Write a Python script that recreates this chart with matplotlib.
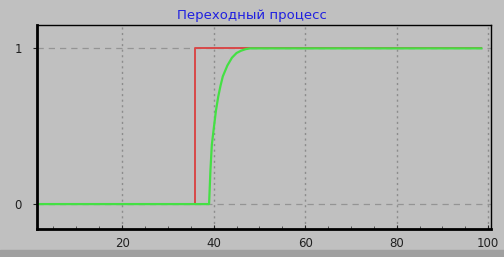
import matplotlib.pyplot as plt
from matplotlib.ticker import MultipleLocator

# данные
t_red = [1, 36, 36, 98.5]
y_red = [0, 0, 1, 1]

t_green = [1, 39, 39.3, 39.6, 40, 40.5, 41, 41.5, 42, 43, 44, 45, 46, 47, 48, 98.5]
y_green = [0, 0, 0.22, 0.38, 0.48, 0.6, 0.69, 0.76, 0.82, 0.89, 0.94, 0.97, 0.985, 0.995, 1, 1]

x_ticks = [20, 40, 60, 80, 100]
y_ticks = [0, 1]

bg = '#c0c0c0'
fig = plt.figure(figsize=(5.04, 2.57), dpi=100, facecolor=bg)
ax = fig.add_axes([37 / 504, 1 - 229 / 257, (491 - 37) / 504, (229 - 25) / 257])
ax.set_facecolor(bg)

ax.plot(t_red, y_red, color='#d84848', lw=1.4)
ax.plot(t_green, y_green, color='#44e044', lw=1.6)

ax.set_xlim(1.4, 100.6)
ax.set_ylim(-0.16, 1.15)
ax.set_xticks(x_ticks)
ax.set_yticks(y_ticks)
ax.xaxis.set_minor_locator(MultipleLocator(5))

for x in x_ticks:
    ax.axvline(x, color='#8c8c8c', ls=(0, (1.5, 2.5)), lw=1.0, zorder=0)
for y in y_ticks:
    ax.axhline(y, color='#949494', ls=(0, (5, 4)), lw=0.9, zorder=0)

for s in ['left', 'bottom']:
    ax.spines[s].set_linewidth(2.0)
for s in ['top', 'right']:
    ax.spines[s].set_linewidth(1.0)
ax.tick_params(axis='x', direction='in', length=3, labelsize=8.5, pad=6, colors='#202020')
ax.tick_params(axis='x', which='minor', direction='in', length=2, color='#404040')
ax.tick_params(axis='y', direction='out', length=3, labelsize=8.5, pad=8, colors='#202020')

fig.text(0.5, 1 - 15 / 257, 'Переходный процесс', color='#2020e0', fontsize=9.5,
         ha='center', va='center')
fig.patches.append(plt.Rectangle((0, 0), 1, 7 / 257, transform=fig.transFigure,
                                 color='#a0a0a0', zorder=-1))

fig.savefig('out.png', dpi=100, facecolor=bg)
